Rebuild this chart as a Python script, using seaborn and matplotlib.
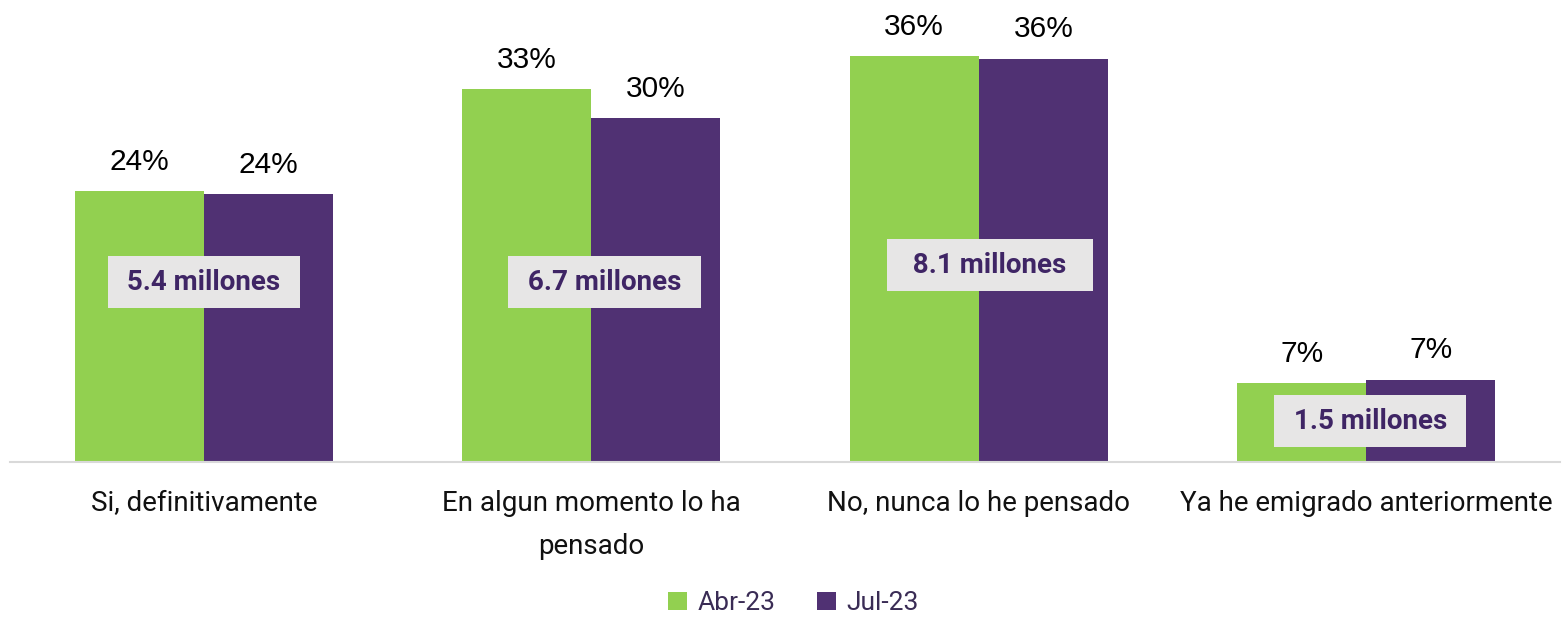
import pandas as pd
import matplotlib
matplotlib.use("Agg")
import matplotlib.pyplot as plt
from matplotlib.patches import Patch
import seaborn as sns

categories = ["Si, definitivamente",
              "En algun momento lo ha\npensado",
              "No, nunca lo he pensado",
              "Ya he emigrado anteriormente"]
periods = ["Abr-23", "Jul-23"]
abr_vals = [24.0, 33.0, 35.9, 7.0]
jul_vals = [23.7, 30.4, 35.7, 7.3]
millones = ["5.4 millones", "6.7 millones", "8.1 millones", "1.5 millones"]

colors = {"Abr-23": "#92d050", "Jul-23": "#503173"}

df = pd.DataFrame({
    "cat": categories * 2,
    "period": [periods[0]] * 4 + [periods[1]] * 4,
    "val": abr_vals + jul_vals,
})

sns.set_style("white")
plt.rcParams["font.family"] = ["Roboto", "DejaVu Sans"]

fig = plt.figure(figsize=(15.62, 6.17), dpi=100)
ax = fig.add_axes([10 / 1562, 155 / 617, 1550 / 1562, 452 / 617])

sns.barplot(data=df, x="cat", y="val", hue="period", palette=colors,
            width=0.667, gap=0, saturation=1, linewidth=0, ax=ax,
            legend=False, errorbar=None)

ax.set_xlim(-0.5, 3.5)
ax.set_ylim(0, 40)
ax.set_xlabel("")
ax.set_ylabel("")
ax.set_yticks([])
for s in ["left", "right", "top"]:
    ax.spines[s].set_visible(False)
ax.spines["bottom"].set_color("#d9d9d9")
ax.spines["bottom"].set_linewidth(1.5)
ax.tick_params(axis="x", length=0, pad=20, labelsize=20, colors="#111111")
for lab in ax.get_xticklabels():
    lab.set_linespacing(1.75)

# percent labels on top of each bar
for cont in ax.containers:
    ax.bar_label(cont, labels=[f"{round(b.get_height())}%" for b in cont],
                 padding=11, fontsize=21.5, family="Liberation Sans", color="#000000")

# grey boxes with the population estimates (layout only)
box_y = [15.9, 15.9, 17.4, 3.6]
box_dx = [0.0, 0.034, 0.028, 0.010]
box_extra = [" ", " ", "  ", " "]
for i, txt in enumerate(millones):
    ax.text(i + box_dx[i], box_y[i], box_extra[i] + txt + box_extra[i],
            ha="center", va="center", fontsize=20, fontweight="bold",
            color="#3f2565",
            bbox=dict(boxstyle="square,pad=0.45", facecolor="#e7e6e6", edgecolor="none"))

handles = [Patch(facecolor=colors[p], edgecolor="none", label=p) for p in periods]
leg = fig.legend(handles=handles, loc="center", bbox_to_anchor=(0.508, 0.022),
                 ncol=2, frameon=False, fontsize=19, handlelength=0.7,
                 handleheight=0.7, handletextpad=0.4, columnspacing=1.6)
for t in leg.get_texts():
    t.set_color("#3a2c55")

fig.savefig("out.png", dpi=100, facecolor="white")
